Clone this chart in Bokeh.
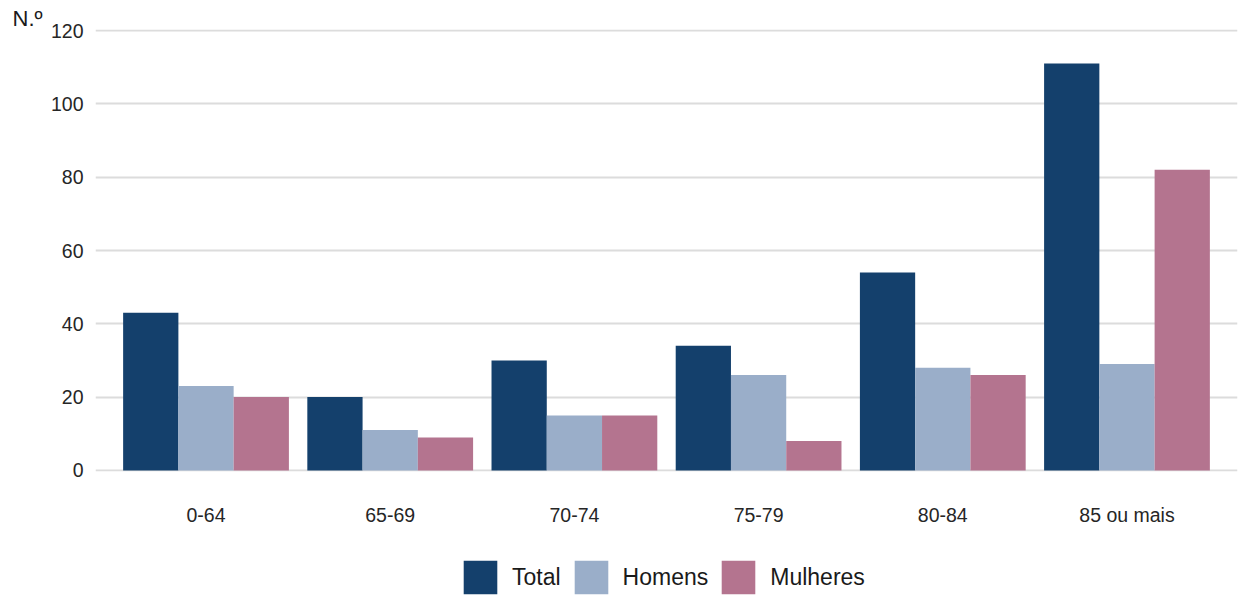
from bokeh.plotting import figure
from bokeh.layouts import column
from bokeh.models import ColumnDataSource, FactorRange, Range1d, FixedTicker, Legend, LegendItem
from bokeh.transform import dodge
from bokeh.embed import file_html
from bokeh.resources import INLINE

categories = ["0-64", "65-69", "70-74", "75-79", "80-84", "85 ou mais"]
total = [43, 20, 30, 34, 54, 111]
homens = [23, 11, 15, 26, 28, 29]
mulheres = [20, 9, 15, 8, 26, 82]
y_ticks = [0, 20, 40, 60, 80, 100, 120]
series_names = ["Total", "Homens", "Mulheres"]

FONT = "Liberation Sans"
COLORS = ["#14406C", "#9AAEC9", "#B4748F"]
COLS = ["total", "homens", "mulheres"]
OFFSETS = [-0.3, 0.0, 0.3]

source = ColumnDataSource(dict(cat=categories, total=total, homens=homens, mulheres=mulheres))

xr = FactorRange(factors=categories, range_padding=0.1, range_padding_units="absolute")

p = figure(
    width=1239, height=540,
    x_range=xr,
    y_range=Range1d(-0.3, 120.3),
    output_backend="svg", toolbar_location=None,
    min_border_left=95, min_border_right=2, min_border_top=29, min_border_bottom=69,
    title="N.º",
)
p.outline_line_color = None

for col, off, c in zip(COLS, OFFSETS, COLORS):
    p.vbar(x=dodge("cat", off, range=xr), top=col, bottom=0, width=0.3, source=source,
           fill_color=c, line_color=None)

# axes
p.yaxis.ticker = FixedTicker(ticks=y_ticks)
for ax in (p.xaxis, p.yaxis):
    ax.axis_line_color = None
    ax.major_tick_line_color = None
    ax.minor_tick_line_color = None
    ax.major_tick_in = 0
    ax.major_tick_out = 0
    ax.minor_tick_out = 0
    ax.major_label_text_font = FONT
    ax.major_label_text_font_size = "19.5px"
    ax.major_label_text_color = "#262626"
p.yaxis.major_label_standoff = 12
p.xaxis.major_label_standoff = 32

p.xgrid.grid_line_color = None
p.ygrid.grid_line_color = "#dcdcdc"
p.ygrid.grid_line_width = 2

# unit label as title
p.title.align = "left"
p.title.offset = -83
p.title.standoff = -3
p.title.text_font = FONT
p.title.text_font_size = "22px"
p.title.text_font_style = "normal"
p.title.text_color = "#1a1a1a"

# legend strip (same bars, drawn outside its visible y-range; only the legend shows)
pl = figure(width=1239, height=56, x_range=xr, y_range=Range1d(500, 501),
            x_axis_type=None, y_axis_type=None, output_backend="svg", toolbar_location=None,
            min_border_left=95, min_border_right=2, min_border_top=0, min_border_bottom=0)
pl.outline_line_color = None
pl.xgrid.visible = False
pl.ygrid.visible = False
items = []
for name, col, off, c in zip(series_names, COLS, OFFSETS, COLORS):
    r = pl.vbar(x=dodge("cat", off, range=xr), top=col, bottom=0, width=0.3, source=source,
                fill_color=c, line_color=None)
    items.append(LegendItem(label=name, renderers=[r]))
lg = Legend(items=items)
lg.orientation = "horizontal"
lg.location = (364, -2)
lg.border_line_color = None
lg.background_fill_alpha = 0
lg.padding = 0
lg.margin = 0
lg.glyph_width = 42
lg.glyph_height = 42
lg.label_standoff = 11
lg.spacing = 9
lg.label_text_font = FONT
lg.label_text_font_size = "23px"
lg.label_text_color = "#1a1a1a"
pl.add_layout(lg, "center")

layout = column(p, pl, spacing=0)
open("out.html", "w").write(file_html(layout, INLINE))
